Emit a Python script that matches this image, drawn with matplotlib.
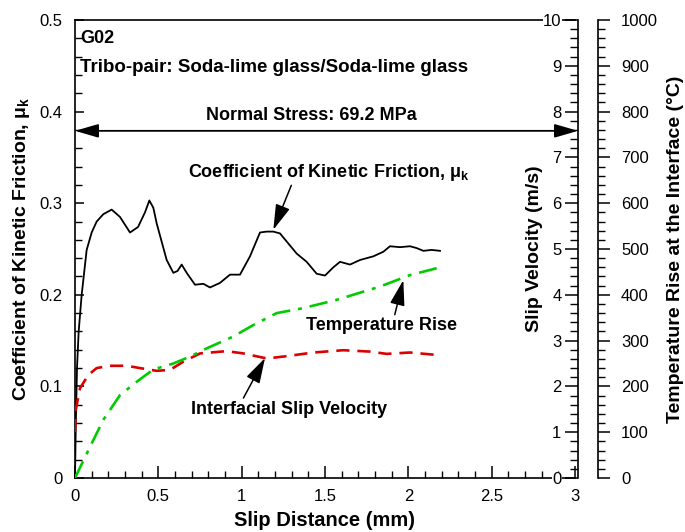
import matplotlib
matplotlib.use("Agg")
import matplotlib.pyplot as plt
from matplotlib.ticker import MultipleLocator

plt.rcParams["font.family"] = ["Liberation Sans", "DejaVu Sans"]
plt.rcParams["mathtext.fontset"] = "custom"
plt.rcParams["mathtext.rm"] = "Liberation Sans"
plt.rcParams["mathtext.bf"] = "Liberation Sans:bold"

# Coefficient of kinetic friction (left axis)
mu_x = [0.0, 0.005, 0.012, 0.022, 0.040, 0.070, 0.100, 0.130, 0.170, 0.220, 0.270,
        0.330, 0.378, 0.420, 0.446, 0.470, 0.490, 0.520, 0.550, 0.590, 0.615, 0.640,
        0.670, 0.720, 0.770, 0.810, 0.870, 0.930, 0.990, 1.050, 1.110, 1.150, 1.190,
        1.230, 1.280, 1.330, 1.390, 1.450, 1.500, 1.550, 1.590, 1.650, 1.710, 1.790,
        1.850, 1.890, 1.950, 2.010, 2.050, 2.090, 2.140, 2.190]
mu_y = [0.0, 0.060, 0.120, 0.160, 0.200, 0.249, 0.268, 0.280, 0.288, 0.293, 0.285,
        0.268, 0.274, 0.290, 0.303, 0.295, 0.278, 0.258, 0.238, 0.224, 0.226, 0.233,
        0.224, 0.211, 0.212, 0.208, 0.213, 0.222, 0.222, 0.242, 0.268, 0.269, 0.269,
        0.267, 0.256, 0.245, 0.236, 0.223, 0.221, 0.230, 0.236, 0.233, 0.238, 0.242,
        0.247, 0.253, 0.252, 0.253, 0.251, 0.248, 0.249, 0.248]

# Interfacial slip velocity (m/s)
vel_x = [0.0, 0.005, 0.030, 0.080, 0.130, 0.210, 0.310, 0.390, 0.490, 0.570, 0.650,
         0.750, 0.910, 1.010, 1.150, 1.270, 1.430, 1.610, 1.770, 1.870, 2.010, 2.160]
vel_y = [1.0, 1.5, 1.96, 2.25, 2.40, 2.45, 2.45, 2.40, 2.34, 2.36, 2.54,
         2.72, 2.77, 2.72, 2.61, 2.66, 2.74, 2.79, 2.76, 2.71, 2.74, 2.69]

# Temperature rise at the interface (deg C)
temp_x = [0.0, 0.090, 0.170, 0.270, 0.370, 0.470, 0.590, 0.690, 0.790, 0.950,
          1.070, 1.210, 1.370, 1.570, 1.830, 2.010, 2.170]
temp_y = [0, 68, 127, 181, 210, 237, 250, 265, 283, 309,
          334, 360, 371, 389, 418, 443, 458]

x_ticks = [0, 0.5, 1, 1.5, 2, 2.5, 3]
x_labels = ["0", "0.5", "1", "1.5", "2", "2.5", "3"]
mu_ticks = [0, 0.1, 0.2, 0.3, 0.4, 0.5]
mu_labels = ["0", "0.1", "0.2", "0.3", "0.4", "0.5"]
vel_ticks = list(range(0, 11))
temp_ticks = list(range(0, 1001, 100))

fig = plt.figure(figsize=(6.85, 5.32), dpi=100)
ax = fig.add_axes([75 / 685, 54 / 532, 500 / 685, 458 / 532])

ax.plot(mu_x, mu_y, color="black", lw=1.3, zorder=5)
ax.set_xlim(0, 3)
ax.set_ylim(0, 0.5)
ax.set_xticks(x_ticks, x_labels)
ax.set_yticks(mu_ticks, mu_labels)
ax.xaxis.set_minor_locator(MultipleLocator(0.1))
ax.yaxis.set_minor_locator(MultipleLocator(0.02))
ax.tick_params(axis="x", which="major", direction="in", length=8.6, width=1.1,
               labelsize=12, pad=8, top=False)
ax.tick_params(axis="x", which="minor", direction="in", length=5, width=1.0, top=False)
ax.tick_params(axis="y", which="major", direction="in", length=6.5, width=1.1,
               labelsize=12, pad=9, right=False)
ax.tick_params(axis="y", which="minor", direction="in", length=5, width=1.0, right=False)
ax.spines["right"].set_visible(False)
for s in ("left", "bottom", "top"):
    ax.spines[s].set_linewidth(1.2)
ax.set_xlabel("Slip Distance (mm)", fontsize=14.5, fontweight="bold", labelpad=5)
ax.set_ylabel(r"Coefficient of Kinetic Friction, μ$_\mathbf{k}$", fontsize=14,
              fontweight="bold")
ax.yaxis.set_label_coords(-0.086, 0.5)

# slip velocity axis, spine just right of the plot box, labels inside
ax2 = ax.twinx()
ax2.plot(vel_x, vel_y, color="#dd0000", lw=1.9, dashes=(5, 3))
ax2.set_ylim(0, 10)
for s in ("right", "top", "bottom"):
    ax2.spines[s].set_visible(False)
ax2.spines["left"].set_position(("axes", 1.006))
ax2.spines["left"].set_linewidth(1.2)
ax2.yaxis.tick_left()
ax2.yaxis.set_label_position("left")
ax2.set_yticks(vel_ticks)
ax2.yaxis.set_minor_locator(MultipleLocator(0.2))
ax2.tick_params(axis="y", which="major", direction="out", length=9.4, width=1.1,
                labelsize=12, pad=2.5)
ax2.tick_params(axis="y", which="minor", direction="out", length=5.8, width=1.0)
for lbl in ax2.get_yticklabels():
    lbl.set_bbox(dict(facecolor="white", edgecolor="none", pad=0.3))
ax2.set_ylabel("Slip Velocity (m/s)", fontsize=14, fontweight="bold")
ax2.yaxis.set_label_coords(0.936, 0.5)

# temperature axis, offset further to the right
ax3 = ax.twinx()
ax3.plot(temp_x, temp_y, color="#00cc00", lw=1.9, dashes=(7, 3, 1.5, 3))
ax3.set_ylim(0, 1000)
for s in ("left", "top", "bottom"):
    ax3.spines[s].set_visible(False)
ax3.spines["right"].set_position(("axes", 1.046))
ax3.spines["right"].set_linewidth(1.2)
ax3.set_yticks(temp_ticks)
ax3.yaxis.set_minor_locator(MultipleLocator(20))
ax3.tick_params(axis="y", which="major", direction="out", length=8.6, width=1.1,
                labelsize=12, pad=8)
ax3.tick_params(axis="y", which="minor", direction="out", length=5, width=1.0)
ax3.set_ylabel("Temperature Rise at the Interface (°C)", fontsize=14, fontweight="bold")
ax3.yaxis.set_label_coords(1.184, 0.5)

# annotations (all placed on the friction axis)
ax.text(0.03, 0.480, "G02", fontsize=13, fontweight="bold", va="center")
ax.text(0.03, 0.448, "Tribo-pair: Soda-lime glass/Soda-lime glass", fontsize=13.5,
        fontweight="bold", va="center")
ax.text(1.416, 0.396, "Normal Stress: 69.2 MPa", fontsize=13, fontweight="bold",
        ha="center", va="center")
ax.annotate("", xy=(3.018, 0.379), xytext=(0.0, 0.379), annotation_clip=False,
            arrowprops=dict(arrowstyle="<|-|>,head_length=1.1,head_width=0.32",
                            color="black", lw=1.3, shrinkA=0, shrinkB=0,
                            mutation_scale=13))

head = "-|>,head_length=1.2,head_width=0.35"
ax.annotate(r"Coefficient of Kinetic Friction, μ$_\mathbf{k}$", xy=(1.190, 0.271),
            xytext=(1.524, 0.334), fontsize=13, fontweight="bold",
            ha="center", va="center", zorder=6,
            arrowprops=dict(arrowstyle=head, color="black", lw=1.1, shrinkA=0,
                            shrinkB=0, mutation_scale=13, relpos=(0.37, 0.0)))
ax.annotate("Temperature Rise", xy=(1.970, 0.216), xytext=(1.842, 0.166),
            fontsize=13, fontweight="bold", ha="center", va="center", zorder=6,
            arrowprops=dict(arrowstyle=head, color="black", lw=1.1, shrinkA=0,
                            shrinkB=0, mutation_scale=13, relpos=(0.58, 1.0)))
ax.annotate("Interfacial Slip Velocity", xy=(1.140, 0.131), xytext=(1.284, 0.075),
            fontsize=13, fontweight="bold", ha="center", va="center", zorder=6,
            arrowprops=dict(arrowstyle=head, color="black", lw=1.1, shrinkA=0,
                            shrinkB=0, mutation_scale=13, relpos=(0.26, 1.0)))

fig.savefig("out.png", dpi=100)
